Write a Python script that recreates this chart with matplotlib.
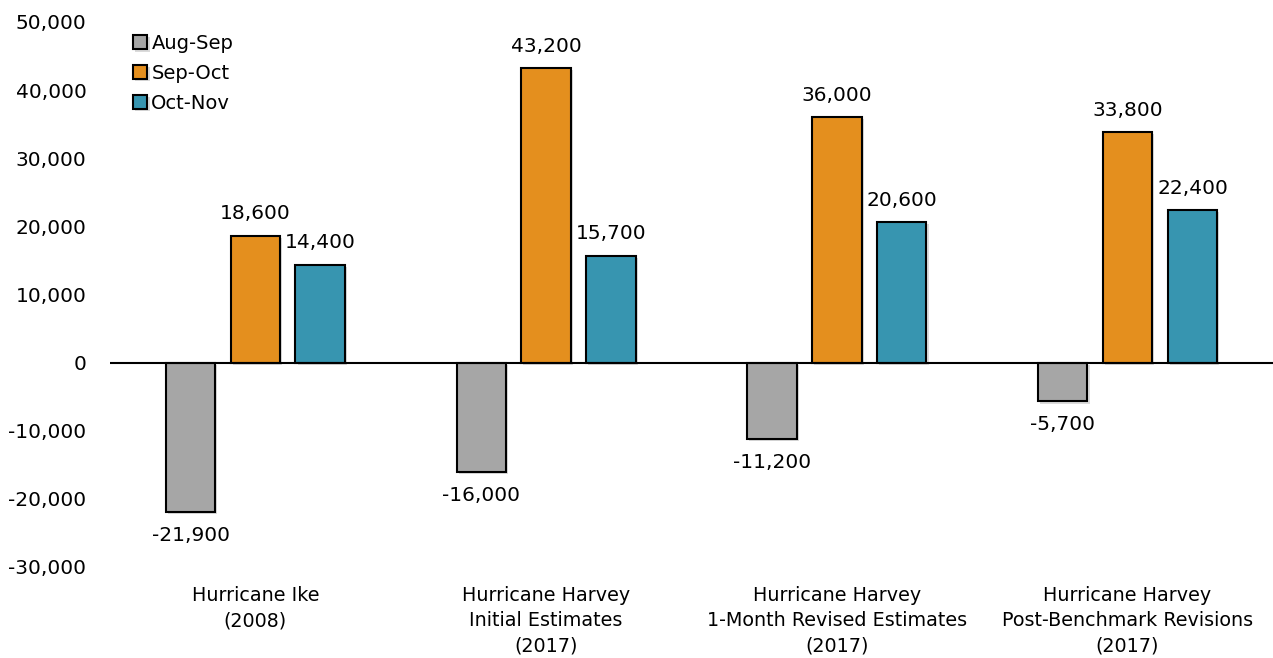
import numpy as np
import matplotlib.pyplot as plt
import matplotlib.patheffects as pe

# monthly job changes around each hurricane
categories = ["Hurricane Ike\n(2008)",
              "Hurricane Harvey\nInitial Estimates\n(2017)",
              "Hurricane Harvey\n1-Month Revised Estimates\n(2017)",
              "Hurricane Harvey\nPost-Benchmark Revisions\n(2017)"]
series_names = ["Aug-Sep", "Sep-Oct", "Oct-Nov"]
aug_sep = [-21900, -16000, -11200, -5700]
sep_oct = [18600, 43200, 36000, 33800]
oct_nov = [14400, 15700, 20600, 22400]
colors = ["#A6A6A6", "#E48F1E", "#3795B0"]

plt.rcParams["font.family"] = ["DejaVu Sans"]

fig = plt.figure(figsize=(12.73, 6.58), dpi=100)
ax = fig.add_axes([0.0864, 0.1383, 0.9136, 0.8283])

x = np.arange(len(categories))
width = 0.17
step = 0.223
shadow = [pe.SimplePatchShadow(offset=(1.5, -1.5), shadow_rgbFace="#999999", alpha=0.35),
          pe.Normal()]

for i, (name, vals, c) in enumerate(zip(series_names, [aug_sep, sep_oct, oct_nov], colors)):
    xs = x + (i - 1) * step
    bars = ax.bar(xs, vals, width, color=c, edgecolor="black", linewidth=1.5,
                  label=name, zorder=3)
    for b in bars:
        b.set_path_effects(shadow)
    for b, v in zip(bars, vals):
        off = 9 if v >= 0 else -10
        ax.annotate(f"{v:,}", (b.get_x() + b.get_width() / 2, v),
                    xytext=(0, off), textcoords="offset points",
                    ha="center", va="bottom" if v >= 0 else "top", fontsize=14.5)

ax.axhline(0, color="black", linewidth=1.5, zorder=4)
ax.set_xlim(-0.5, len(categories) - 0.5)
ax.set_ylim(-30000, 50000)
ax.set_yticks(np.arange(-30000, 50001, 10000))
ax.yaxis.set_major_formatter(plt.FuncFormatter(lambda v, p: f"{int(v):,}"))
ax.set_xticks(x)
ax.set_xticklabels(categories, fontsize=13.8, linespacing=1.4)
ax.tick_params(axis="both", length=0)
ax.tick_params(axis="x", pad=14)
ax.tick_params(axis="y", labelsize=14.5, pad=17)
for s in ax.spines.values():
    s.set_visible(False)

ax.legend(loc="upper left", bbox_to_anchor=(0.013, 0.992), frameon=False,
          fontsize=14, handlelength=0.75, handleheight=0.75, handletextpad=0.2,
          labelspacing=0.55, borderaxespad=0)

plt.savefig("out.png", dpi=100)
